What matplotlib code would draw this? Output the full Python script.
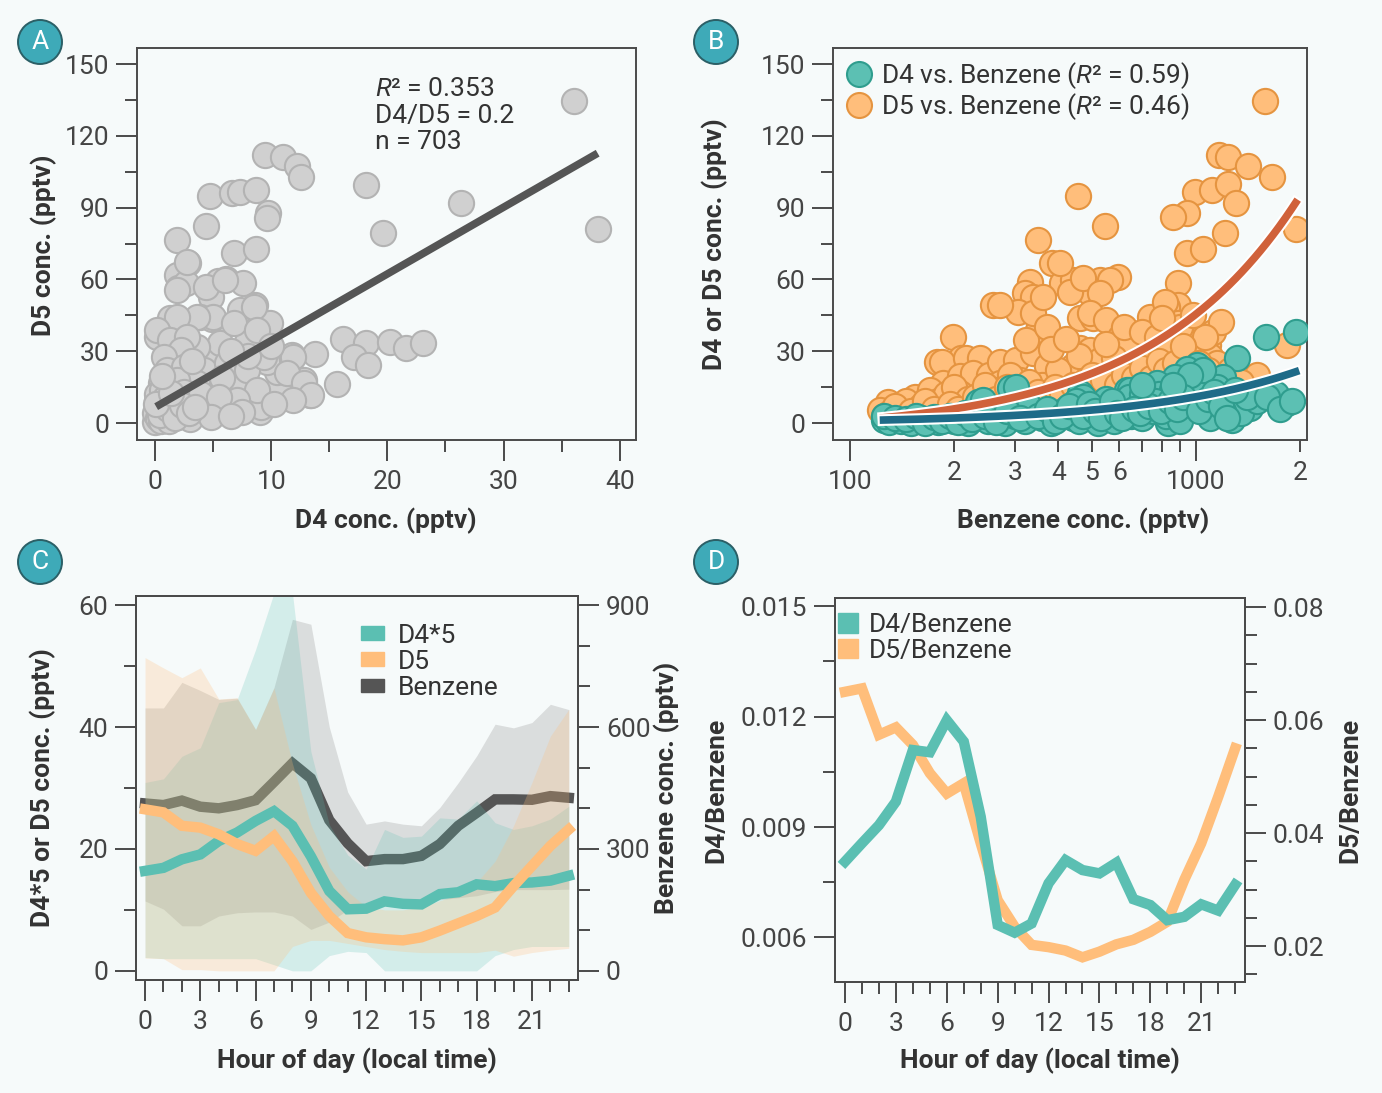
import numpy as np
import matplotlib
matplotlib.use('Agg')
import matplotlib.pyplot as plt
from matplotlib.patches import Patch, Ellipse
from matplotlib.lines import Line2D
from matplotlib.ticker import FixedLocator, FixedFormatter, MultipleLocator
import matplotlib.patheffects as pe

plt.rcParams['font.family'] = ['Roboto', 'DejaVu Sans']
plt.rcParams['mathtext.fontset'] = 'custom'
plt.rcParams['mathtext.rm'] = 'Roboto'
plt.rcParams['mathtext.it'] = 'Roboto:italic'

# ---------------- data ----------------
# Panel A: D4 vs D5 (pptv)
a_d4 = [36.1, 38.1, 18.2, 26.3, 19.6, 9.5, 11.0, 12.2, 12.6, 4.7, 6.6, 7.3, 8.7, 9.7, 9.6, 4.4, 1.9, 6.8, 8.7, 2.8,
        1.9, 2.0, 2.7, 6.1, 5.4, 7.6, 4.8, 4.4, 8.6, 7.3, 9.9, 1.3, 3.9, 4.9, 0.2, 16.2, 18.2, 20.2, 21.6, 23.1,
        17.1, 18.3, 13.8, 11.8, 15.7, 13.3, 11.6, 10.6, 8.7, 9.0, 12.8, 10.5, 4.7, 5.6, 7.9, 9.6, 3.6, 2.0, 5.0, 3.6,
        7.0, 5.3, 6.2, 4.4, 2.4, 2.75, 1.9, 6.05, 8.5, 1.9, 0.2, 1.3, 2.75, 6.8, 8.8, 2.2, 0.75, 1.0, 2.5, 4.2,
        6.2, 7.9, 9.35, 11.9, 11.4, 12.8, 13.4, 11.9, 9.1, 8.8, 3.6, 1.9, 0.5, 0.2, 0.75, 0.0, 1.9, 3.6, 5.1, 7.05,
        2.75, 1.3, 0.0, 0.3, 0.5, 1.0, 0.8, 1.5, 2.0, 2.5, 3.0, 0.2, 0.6, 3.2, 5.8, 8.0, 10.0, 6.5, 4.0, 5.5,
        7.5, 10.2, 3.0, 1.2, 4.8, 6.5, 0.4, 1.1, 0.9, 1.7, 2.3, 0.1, 1.4, 2.9, 3.4, 0.6]
a_d5 = [134.7, 81.0, 99.5, 92.0, 79.3, 112.0, 111.0, 107.4, 103.0, 94.9, 96.3, 96.7, 97.4, 87.6, 85.5, 82.3, 76.5, 70.9, 72.7, 67.0,
        61.8, 56.3, 58.4, 60.0, 59.5, 58.6, 52.8, 57.0, 49.3, 47.2, 41.9, 43.7, 44.4, 43.3, 36.1, 35.1, 33.6, 34.0, 31.2, 33.3,
        27.7, 24.2, 28.8, 28.4, 16.2, 11.7, 11.0, 14.5, 13.1, 4.7, 18.0, 21.4, 28.4, 33.3, 34.0, 25.6, 31.9, 37.5, 44.4, 44.4,
        15.2, 15.2, 6.1, 6.8, 5.4, 67.4, 55.6, 59.8, 48.6, 44.4, 38.9, 34.7, 36.1, 41.7, 38.9, 30.5, 27.7, 22.1, 23.5, 22.1,
        24.9, 22.1, 27.7, 27.7, 20.8, 16.6, 11.7, 9.6, 6.8, 13.8, 16.6, 18.0, 16.6, 9.6, 5.4, 0.5, 2.6, 4.0, 8.2, 9.6,
        8.2, 9.6, 4.0, 2.0, 1.0, 3.0, 7.0, 5.0, 11.0, 13.0, 9.0, 12.0, 14.0, 26.0, 19.0, 28.0, 32.0, 30.0, 12.0, 11.0,
        4.5, 8.0, 1.5, 0.8, 2.5, 2.8, 3.5, 6.0, 10.5, 2.2, 7.5, 8.0, 12.5, 4.2, 6.5, 19.5]
a_fit = (2.787, 6.55)          # slope, intercept of D5 vs D4
a_fit_range = (0.1, 38.1)

# Panel B: benzene vs D5 (orange) and D4 (teal)
b_benz_d5 = [1582, 1941, 1168, 1235, 1417, 1654, 994, 1110, 1240, 1305, 940, 860, 457, 546, 1213, 940, 1050, 350, 383, 331,
             320, 338, 409, 442, 528, 597, 494, 259, 306, 350, 889, 889, 823, 736, 462, 505, 199, 178, 210, 1005,
             1086, 1829, 659, 462, 887, 814, 129, 122, 154, 168, 184, 217, 237, 186, 208, 227, 208, 253, 271, 302,
             338, 370, 323, 338, 361, 271, 404, 370, 432, 472, 563, 527, 494, 551, 494, 602, 630, 442, 404, 527,
             575, 309, 271, 130, 140, 145, 160, 170, 180, 190, 200, 220, 240, 250, 260, 280, 290, 300, 320, 340,
             360, 380, 400, 420, 450, 480, 520, 560, 600, 640, 680, 720, 760, 800, 850, 900, 950, 1000, 1050, 1100,
             1150, 1300, 1400, 1500, 1200, 700, 650, 750, 580, 460, 380, 420, 550, 620, 700, 770, 830, 900, 950, 1120,
             1180, 1060, 980, 800, 125, 135, 150, 165, 175, 195, 205, 230, 245, 265, 285, 310, 330, 350, 390, 410,
             440, 470, 500, 540, 590, 620, 660, 700, 740, 780, 820, 870, 920, 1020, 1080, 1250, 1350]
b_d5 = [134.7, 81.0, 112.0, 111.0, 107.4, 103.0, 96.7, 97.4, 99.9, 92.0, 87.6, 86.2, 94.9, 82.3, 79.3, 70.9, 72.6, 76.5, 66.7, 59.0,
        54.2, 52.8, 58.4, 59.8, 59.8, 61.1, 54.2, 49.3, 46.5, 38.9, 58.4, 49.3, 48.6, 44.4, 43.7, 43.7, 36.1, 25.6, 27.0, 34.0,
        32.6, 32.6, 34.7, 31.2, 41.7, 50.7, 8.9, 5.4, 11.0, 11.0, 25.6, 27.0, 27.0, 16.6, 19.5, 20.8, 12.4, 20.1, 25.6, 26.3,
        29.1, 23.7, 34.7, 45.8, 52.8, 49.3, 66.7, 40.2, 54.9, 60.5, 59.8, 54.2, 45.8, 43.0, 30.5, 36.1, 32.0, 23.7, 18.1, 26.3,
        19.4, 18.1, 16.6, 4.0, 6.0, 9.0, 7.0, 14.0, 9.0, 12.0, 15.0, 10.0, 13.0, 8.0, 14.0, 11.0, 20.0, 9.0, 14.0, 12.0,
        16.0, 10.0, 22.0, 14.0, 12.0, 18.0, 15.0, 13.0, 22.0, 17.0, 25.0, 21.0, 28.0, 24.0, 30.0, 27.0, 22.0, 30.0, 20.0, 28.0,
        25.0, 18.0, 15.0, 20.0, 17.0, 14.0, 12.0, 16.0, 27.0, 28.0, 31.0, 35.0, 33.0, 40.0, 38.0, 36.0, 33.0, 40.0, 31.0, 38.0,
        42.0, 36.0, 45.0, 44.0, 3.0, 7.0, 5.0, 9.0, 6.0, 8.0, 6.0, 11.0, 16.0, 10.0, 15.0, 11.0, 17.0, 13.0, 15.0, 12.0,
        16.0, 10.0, 20.0, 18.0, 16.0, 20.0, 19.0, 23.0, 19.0, 26.0, 22.0, 25.0, 32.0, 25.0, 22.0, 22.0, 17.0]
b_benz_d4 = [1593, 1941, 1311, 1199, 1005, 940, 870, 770, 1829, 1432, 1636, 1269, 832, 290, 235, 631, 462, 125, 302, 242,
             472, 644, 527, 130, 140, 150, 160, 170, 180, 190, 200, 210, 220, 230, 250, 260, 270, 280, 300, 320,
             340, 360, 380, 400, 420, 440, 460, 480, 500, 520, 540, 560, 580, 600, 620, 650, 680, 700, 720, 750,
             780, 800, 820, 850, 900, 950, 980, 1050, 1100, 1150, 1250, 1350, 1500, 1700, 1200, 1100, 900, 1000, 1050, 960,
             1400, 330, 450, 550, 640, 700, 760, 125, 135, 145, 155, 165, 175, 185, 195, 205, 215, 225, 245, 265,
             285, 310, 350, 370, 390, 410, 430, 470, 490, 510, 530, 570, 590, 610, 660, 690, 730, 790, 840, 880,
             920, 1020, 1080, 1130, 1180, 1300, 1600, 1750, 1900, 1230, 860, 700]
b_d4 = [36.1, 38.2, 27.0, 19.4, 24.2, 22.7, 19.4, 16.6, 8.2, 6.1, 13.8, 1.25, 0.0, 14.5, 8.9, 13.8, 12.4, 1.25, 15.2, 9.6,
        11.0, 13.8, 6.8, 0.5, 1.0, 0.0, 2.0, 1.0, 0.5, 2.0, 1.0, 3.0, 0.0, 2.0, 1.0, 4.0, 2.0, 0.0, 3.0, 1.0,
        5.0, 2.0, 0.0, 4.0, 6.0, 2.0, 1.0, 5.0, 3.0, 0.0, 7.0, 4.0, 1.0, 6.0, 9.0, 3.0, 8.0, 2.0, 10.0, 5.0,
        12.0, 8.0, 3.0, 14.0, 10.0, 6.0, 16.0, 12.0, 8.0, 15.0, 10.0, 4.0, 9.0, 12.0, 5.0, 2.0, 1.0, 18.0, 22.0, 20.0,
        11.0, 7.0, 9.0, 10.0, 11.0, 12.0, 9.0, 3.0, 2.0, 1.5, 3.0, 0.0, 2.5, 1.0, 3.0, 0.5, 4.0, 1.5, 3.0, 0.5,
        5.0, 2.0, 3.0, 6.0, 1.0, 3.0, 7.0, 3.0, 8.0, 5.0, 2.0, 9.0, 4.0, 2.0, 6.0, 4.0, 7.0, 5.0, 9.0, 6.0,
        11.0, 5.0, 10.0, 13.0, 7.0, 14.0, 11.0, 6.0, 9.0, 2.0, 16.0, 16.0]
b_fit_d5 = (0.04948, -3.99)    # slope, intercept (linear fit)
b_fit_d4 = (0.0111, -0.14)
b_fit_range = (125, 1940)

# Panel C: diurnal profiles
hours = list(range(24))
c_d4x5 = [16.4, 16.9, 18.3, 19.1, 21.3, 22.7, 24.6, 26.2, 23.8, 18.8, 13.1, 10.1, 10.2, 11.4, 11.0, 10.9, 12.6, 12.9, 14.2, 13.9, 14.4, 14.5, 14.8, 15.6]
c_d4x5_lo = [2.2, 2.0, 2.0, 2.0, 2.0, 2.0, 2.0, 1.0, 0.0, 0.0, 2.5, 3.2, 3.0, 0.0, 0.0, 0.0, 0.0, 0.0, 0.0, 2.5, 3.5, 4.0, 4.0, 4.0]
c_d4x5_hi = [30.9, 31.5, 35.2, 36.6, 44.0, 44.5, 52.7, 62.0, 62.0, 36.0, 24.0, 19.0, 16.7, 23.2, 21.9, 22.1, 25.1, 24.9, 27.9, 24.3, 23.2, 23.8, 24.9, 27.0]
c_d5 = [26.5, 26.0, 23.8, 23.5, 22.4, 20.8, 19.7, 22.1, 18.0, 12.8, 9.0, 6.2, 5.5, 5.2, 5.0, 5.5, 6.6, 7.8, 9.0, 10.4, 13.9, 17.2, 20.5, 23.2]
c_d5_lo = [2.1, 2.0, 0.2, 0.2, 0.0, 0.0, 0.0, 0.0, 4.0, 5.0, 5.0, 4.5, 4.0, 3.5, 3.2, 3.0, 3.0, 3.0, 3.0, 3.4, 2.4, 3.0, 3.4, 3.7]
c_d5_hi = [51.4, 49.7, 48.1, 49.7, 44.6, 44.8, 39.6, 46.4, 34.0, 24.0, 17.0, 13.0, 10.5, 10.0, 10.0, 10.5, 11.5, 12.5, 14.5, 18.0, 23.8, 30.9, 38.5, 42.9]
c_benz = [412, 408, 419, 404, 400, 408, 420, 465, 511, 474, 371, 314, 270, 275, 275, 283, 312, 357, 389, 422, 422, 421, 430, 426]
c_benz_lo = [172, 152, 111, 111, 135, 143, 145, 145, 135, 102, 120, 150, 165, 165, 165, 170, 175, 180, 185, 195, 200, 200, 200, 201]
c_benz_hi = [647, 647, 710, 690, 668, 671, 594, 697, 865, 853, 600, 440, 361, 369, 361, 357, 402, 463, 529, 607, 598, 611, 656, 643]

# Panel D: ratios
d_d4_benz = [0.00806, 0.00856, 0.00905, 0.00969, 0.01109, 0.01103, 0.01190, 0.01132, 0.00928, 0.00634, 0.00613, 0.00638,
             0.00747, 0.00810, 0.00783, 0.00774, 0.00803, 0.00704, 0.00688, 0.00647, 0.00656, 0.00690, 0.00673, 0.00743]
d_d5_benz = [0.0650, 0.0656, 0.0574, 0.0587, 0.0556, 0.0506, 0.0470, 0.0488, 0.0382, 0.0281, 0.0234, 0.0202,
             0.0198, 0.0192, 0.0180, 0.0190, 0.0203, 0.0211, 0.0225, 0.0243, 0.0317, 0.0382, 0.0464, 0.0550]

# ---------------- style ----------------
BG = '#f6fafa'
TEAL = '#5bbfb2'
ORANGE = '#ffbe7b'
DARK = '#555555'
TXT = '#333333'
TICKC = '#444444'
FS = 19

W, H = 1382, 1093
fig = plt.figure(figsize=(W / 100, H / 100), dpi=100, facecolor=BG)


def px_axes(l, t, r, b):
    return fig.add_axes([l / W, 1 - b / H, (r - l) / W, (b - t) / H])


def style(ax):
    ax.set_facecolor(BG)
    for s in ax.spines.values():
        s.set_color('#4a4a4a')
        s.set_linewidth(1.4)
    ax.tick_params(which='major', length=15, width=1.4, color='#4a4a4a', labelsize=FS, labelcolor=TICKC, pad=5)
    ax.tick_params(which='minor', length=8.5, width=1.4, color='#4a4a4a')
    ax.tick_params(axis='x', which='both', pad=6.5)


def flabel(x, y, s, rot=0):
    fig.text(x / W, 1 - y / H, s, rotation=rot, ha='center', va='center', fontsize=FS,
             fontweight='bold', color=TXT)


def badge(x, y, s):
    e = Ellipse((x / W, 1 - y / H), 44 / W, 44 / H, transform=fig.transFigure,
                facecolor='#3eaab8', edgecolor='#2b5f66', linewidth=1.4, zorder=10)
    fig.add_artist(e)
    fig.text(x / W, 1 - y / H, s, ha='center', va='center', color='white', fontsize=19, zorder=11)


R2 = '$\\mathit{R}$\u00b2'

# ---------------- Panel A ----------------
axA = px_axes(137, 48, 636, 440)
style(axA)
axA.scatter(a_d4, a_d5, s=330, facecolor='#d0d0d0', edgecolor='#b3b3b3', linewidth=1.5, zorder=2)
xa = np.array(a_fit_range)
axA.plot(xa, a_fit[0] * xa + a_fit[1], color=DARK, lw=5.5, solid_capstyle='butt', zorder=3)
axA.set_xlim(-1.55, 41.4)
axA.set_ylim(-7.1, 156.7)
axA.xaxis.set_major_locator(MultipleLocator(10))
axA.xaxis.set_minor_locator(MultipleLocator(5))
axA.yaxis.set_major_locator(MultipleLocator(30))
axA.yaxis.set_minor_locator(MultipleLocator(15))
axA.text(0.477, 0.925, R2 + ' = 0.353\nD4/D5 = 0.2\nn = 703', transform=axA.transAxes,
         ha='left', va='top', fontsize=FS, color=TXT, linespacing=1.12)
flabel(44, 245, 'D5 conc. (pptv)', 90)
flabel(386, 521, 'D4 conc. (pptv)')

# ---------------- Panel B ----------------
axB = px_axes(833, 48, 1307, 440)
style(axB)
axB.set_xscale('log')
axB.scatter(b_benz_d5, b_d5, s=330, facecolor=ORANGE, edgecolor='#e59440', linewidth=1.5, zorder=2)
axB.scatter(b_benz_d4, b_d4, s=330, facecolor='#5cc0b3', edgecolor='#2f9d8e', linewidth=1.5, zorder=3)
xb = np.geomspace(b_fit_range[0], b_fit_range[1], 200)
stroke = [pe.Stroke(linewidth=8.5, foreground='white'), pe.Normal()]
axB.plot(xb, b_fit_d5[0] * xb + b_fit_d5[1], color='#d0613a', lw=5.5, zorder=4, path_effects=stroke)
axB.plot(xb, b_fit_d4[0] * xb + b_fit_d4[1], color='#1e6b88', lw=5.5, zorder=4, path_effects=stroke)
axB.set_xlim(89.3, 2093)
axB.set_ylim(-7.1, 156.7)
axB.xaxis.set_major_locator(FixedLocator([100, 1000]))
axB.xaxis.set_major_formatter(FixedFormatter(['100', '1000']))
minors = [200, 300, 400, 500, 600, 700, 800, 900, 2000]
axB.xaxis.set_minor_locator(FixedLocator(minors))
axB.xaxis.set_minor_formatter(FixedFormatter(['2', '3', '4', '5', '6', '', '', '', '2']))
axB.tick_params(axis='x', which='minor', labelsize=FS, labelcolor=TICKC, pad=6.5)
axB.yaxis.set_major_locator(MultipleLocator(30))
axB.yaxis.set_minor_locator(MultipleLocator(15))
hB = [Line2D([], [], ls='none', marker='o', markersize=18, markerfacecolor='#5cc0b3', markeredgecolor='#2f9d8e', markeredgewidth=1.5),
      Line2D([], [], ls='none', marker='o', markersize=18, markerfacecolor=ORANGE, markeredgecolor='#e59440', markeredgewidth=1.5)]
axB.legend(hB, ['D4 vs. Benzene (' + R2 + ' = 0.59)', 'D5 vs. Benzene (' + R2 + ' = 0.46)'],
           loc='upper left', bbox_to_anchor=(-0.019, 1.03), frameon=False, fontsize=FS,
           handlelength=0.85, handletextpad=0.4, labelspacing=0.02, labelcolor=TXT)
flabel(715, 244, 'D4 or D5 conc. (pptv)', 90)
flabel(1083, 521, 'Benzene conc. (pptv)')

# ---------------- Panel C ----------------
axC2 = px_axes(136, 596, 578, 980)   # benzene (right) axis, behind
axC = fig.add_axes(axC2.get_position(), sharex=axC2)
axC2.yaxis.tick_right()
axC.set_zorder(axC2.get_zorder() + 1)
style(axC2)
style(axC)
axC.patch.set_visible(False)
axC2.fill_between(hours, c_benz_lo, c_benz_hi, color='#a0a0a0', alpha=0.32, lw=0)
axC2.plot(hours, c_benz, color=DARK, lw=7.5, solid_joinstyle='miter')
axC.fill_between(hours, c_d4x5_lo, c_d4x5_hi, color=TEAL, alpha=0.22, lw=0)
axC.plot(hours, c_d4x5, color=TEAL, lw=7.5, solid_joinstyle='miter')
axC.fill_between(hours, c_d5_lo, c_d5_hi, color=ORANGE, alpha=0.25, lw=0)
axC.plot(hours, c_d5, color=ORANGE, lw=7.5, solid_joinstyle='miter')
axC.set_xlim(-0.49, 23.5)
axC.set_ylim(-1.5, 61.5)
axC2.set_ylim(-22.5, 922.5)
axC.xaxis.set_major_locator(MultipleLocator(3))
axC.xaxis.set_minor_locator(MultipleLocator(1))
axC.yaxis.set_major_locator(MultipleLocator(20))
axC.yaxis.set_minor_locator(MultipleLocator(10))
axC2.yaxis.set_major_locator(MultipleLocator(300))
axC2.yaxis.set_minor_locator(MultipleLocator(100))
axC2.tick_params(axis='x', which='both', bottom=False, labelbottom=False)
hC = [Patch(color=TEAL), Patch(color=ORANGE), Patch(color=DARK)]
axC.legend(hC, ['D4*5', 'D5', 'Benzene'], loc='upper left', bbox_to_anchor=(0.456, 0.99), frameon=False,
           fontsize=FS, handlelength=0.87, handleheight=0.42, handletextpad=0.5, labelspacing=0.08, labelcolor=TXT)
flabel(43, 788, 'D4*5 or D5 conc. (pptv)', 90)
flabel(667, 788, 'Benzene conc. (pptv)', 90)
flabel(357, 1061, 'Hour of day (local time)')

# ---------------- Panel D ----------------
axD2 = px_axes(835, 598, 1245, 982)   # D5/benzene (right)
axD = fig.add_axes(axD2.get_position(), sharex=axD2)
axD2.yaxis.tick_right()
axD.set_zorder(axD2.get_zorder() + 1)
style(axD2)
style(axD)
axD.patch.set_visible(False)
axD2.plot(hours, d_d5_benz, color=ORANGE, lw=7.5, solid_joinstyle='miter')
axD.plot(hours, d_d4_benz, color=TEAL, lw=7.5, solid_joinstyle='miter')
axD.set_xlim(-0.59, 23.58)
axD.set_ylim(0.00479, 0.01522)
axD2.set_ylim(0.01363, 0.0816)
axD.xaxis.set_major_locator(MultipleLocator(3))
axD.xaxis.set_minor_locator(MultipleLocator(1))
axD.yaxis.set_major_locator(FixedLocator([0.006, 0.009, 0.012, 0.015]))
axD.yaxis.set_major_formatter(FixedFormatter(['0.006', '0.009', '0.012', '0.015']))
axD.yaxis.set_minor_locator(MultipleLocator(0.0015))
axD2.yaxis.set_major_locator(FixedLocator([0.02, 0.04, 0.06, 0.08]))
axD2.yaxis.set_major_formatter(FixedFormatter(['0.02', '0.04', '0.06', '0.08']))
axD2.yaxis.set_minor_locator(MultipleLocator(0.005))
axD2.tick_params(axis='x', which='both', bottom=False, labelbottom=False)
hD = [Patch(color=TEAL), Patch(color=ORANGE)]
axD.legend(hD, ['D4/Benzene', 'D5/Benzene'], loc='upper left', bbox_to_anchor=(-0.05, 1.022), frameon=False,
           fontsize=FS, handlelength=0.75, handleheight=0.75, handletextpad=0.4, labelspacing=0.05, labelcolor=TXT)
flabel(716, 790, 'D4/Benzene', 90)
flabel(1350, 790, 'D5/Benzene', 90)
flabel(1040, 1061, 'Hour of day (local time)')

badge(40, 42, 'A')
badge(716, 42, 'B')
badge(40, 562, 'C')
badge(716, 562, 'D')

fig.savefig('out.png', dpi=100, facecolor=BG)
